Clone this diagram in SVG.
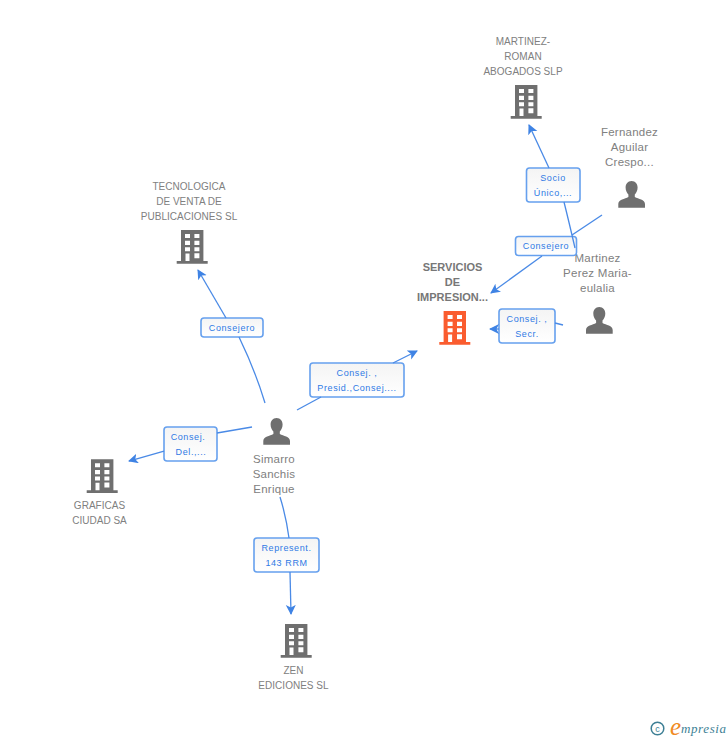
<svg xmlns="http://www.w3.org/2000/svg" width="728" height="740" viewBox="0 0 728 740">
<style>
.n{font:10px "Liberation Sans",Arial,sans-serif;fill:#808080;text-anchor:middle;letter-spacing:.02px}
.p{font-size:11.5px;letter-spacing:.25px}
.b{font-weight:bold;font-size:11px;fill:#777;letter-spacing:0}
.l{font:9px "Liberation Sans",Arial,sans-serif;fill:#2f7ae5;text-anchor:middle;letter-spacing:.6px}
.c{fill:none;stroke:#4a8ae6;stroke-width:1.3}
.box{fill:url(#g);stroke:#66a0ee;stroke-width:1.6}
.w{fill:#fff}
</style>
<defs>
<linearGradient id="g" x1="0" y1="0" x2="0" y2="1"><stop offset="0" stop-color="#f4f4f4"/><stop offset="1" stop-color="#fff"/></linearGradient>
<marker id="a" markerUnits="userSpaceOnUse" markerWidth="12" markerHeight="12" refX="9" refY="5" orient="auto"><path d="M0 0L10 5L0 10L2.500 5Z" fill="#3f83e4"/></marker>
<g id="bld">
<path d="M4.300 0H26.700V31H31V33.700H0V31H4.300Z"/>
<path class="w" d="M8.300 4h5v4h-5zM17.700 4h5v4h-5zM8.300 10.700h5v4.300h-5zM17.700 10.700h5v4.300h-5zM8.300 17.300h5v4h-5zM17.700 17.300h5v4h-5zM8.800 23.500h4v7.500h-4zM17.700 23.300h5v5h-5z"/>
</g>
<path id="per" d="M13.300 0C17.200 0 19.300 3 19.300 6.600C19.300 9.600 18 12 16.500 13.600V16C20 18 26.700 18.500 26.700 23V26.700H0V23C0 18.500 6.700 18 10.100 16V13.600C8.600 12 7.300 9.600 7.300 6.600C7.300 3 9.400 0 13.300 0Z" fill="#6f6f6f"/>
</defs>
<g id="martinez-roman"><use href="#bld" x="510.700" y="85" fill="#6f6f6f"/><text class="n"><tspan x="523" y="45">MARTINEZ-</tspan><tspan x="523" y="60">ROMAN</tspan><tspan x="523" y="75">ABOGADOS SLP</tspan></text></g>
<g id="fernandez"><use href="#per" x="618.300" y="181"/><text class="n p"><tspan x="629.500" y="136">Fernandez</tspan><tspan x="629.500" y="151">Aguilar</tspan><tspan x="629.500" y="166">Crespo...</tspan></text></g>
<g id="martinez-perez"><use href="#per" x="586" y="307"/><text class="n p"><tspan x="597.500" y="262">Martinez</tspan><tspan x="597.500" y="277">Perez Maria-</tspan><tspan x="597.500" y="292">eulalia</tspan></text></g>
<g id="servicios"><use href="#bld" x="439.300" y="311" fill="#fa5c2f"/><text class="n b"><tspan x="452.500" y="271">SERVICIOS</tspan><tspan x="452.500" y="286">DE</tspan><tspan x="452.500" y="301">IMPRESION...</tspan></text></g>
<g id="tecnologica"><use href="#bld" x="176.700" y="230" fill="#6f6f6f"/><text class="n"><tspan x="189" y="190">TECNOLOGICA</tspan><tspan x="189" y="205">DE VENTA DE</tspan><tspan x="189" y="220">PUBLICACIONES SL</tspan></text></g>
<g id="graficas"><use href="#bld" x="86.700" y="459.300" fill="#6f6f6f"/><text class="n"><tspan x="99.500" y="509">GRAFICAS</tspan><tspan x="99.500" y="524">CIUDAD SA</tspan></text></g>
<g id="simarro"><use href="#per" x="263.300" y="418"/><text class="n p"><tspan x="274" y="463">Simarro</tspan><tspan x="274" y="478">Sanchis</tspan><tspan x="274" y="493">Enrique</tspan></text></g>
<g id="zen"><use href="#bld" x="280.700" y="624" fill="#6f6f6f"/><text class="n"><tspan x="293.500" y="674">ZEN</tspan><tspan x="293.500" y="689">EDICIONES SL</tspan></text></g>
<g id="l-socio"><rect class="box" x="526.500" y="168" width="53.500" height="34" rx="3"/><text class="l"><tspan x="553" y="181">Socio</tspan><tspan x="553" y="196">Único,...</tspan></text></g>
<g id="l-consejero1"><rect class="box" x="515.500" y="236.500" width="61" height="19" rx="3"/><text class="l"><tspan x="546" y="249">Consejero</tspan></text></g>
<g id="l-secr"><rect class="box" x="499" y="309" width="56" height="34" rx="3"/><text class="l"><tspan x="527" y="322">Consej. ,</tspan><tspan x="527" y="337">Secr.</tspan></text></g>
<g id="l-consejero2"><rect class="box" x="201" y="318" width="62" height="19" rx="3"/><text class="l"><tspan x="232" y="331">Consejero</tspan></text></g>
<g id="l-presid"><rect class="box" x="310" y="363" width="94" height="34" rx="3"/><text class="l"><tspan x="357" y="376">Consej. ,</tspan><tspan x="357" y="391">Presid.,Consej....</tspan></text></g>
<g id="l-del"><rect class="box" x="164" y="427" width="53" height="34" rx="3"/><text class="l"><tspan x="188" y="440">Consej.</tspan><tspan x="191" y="455">Del.,...</tspan></text></g>
<g id="l-rep"><rect class="box" x="254" y="538" width="65" height="34" rx="3"/><text class="l"><tspan x="286.500" y="551">Represent.</tspan><tspan x="286.500" y="566">143 RRM</tspan></text></g>
<g id="connectors">
<path class="c" marker-end="url(#a)" d="M549 168L529 125"/>
<path class="c" d="M564 202Q569 222 575 248"/>
<path class="c" d="M602 215L572 235"/>
<path class="c" marker-end="url(#a)" d="M542 256L491 293"/>
<path class="c" d="M563 325L555 323"/>
<path class="c" marker-end="url(#a)" d="M499 329L490 329"/>
<path class="c" marker-end="url(#a)" d="M226 318L198 270"/>
<path class="c" d="M239 337Q255 370 265 403"/>
<path class="c" d="M297 410L321 397"/>
<path class="c" marker-end="url(#a)" d="M393 363L417 351"/>
<path class="c" d="M252 427L217 433"/>
<path class="c" marker-end="url(#a)" d="M164 451L129 461"/>
<path class="c" d="M280 497Q286 516 289 538"/>
<path class="c" marker-end="url(#a)" d="M290 572L291 614"/>
</g>
<g id="logo">
<circle cx="657.500" cy="728.500" r="6.300" fill="none" stroke="#3d7f95" stroke-width="1.500"/>
<text x="657.500" y="731.500" font-family="Liberation Sans,sans-serif" font-size="9" fill="#3d7f95" text-anchor="middle">c</text>
<text x="670" y="735" font-family="Liberation Serif,serif" font-style="italic" font-size="25" fill="#f08a24">e</text>
<text x="681" y="733" font-family="Liberation Serif,serif" font-style="italic" font-size="13" fill="#3d7f95" letter-spacing=".6">mpresia</text>
</g>
</svg>
